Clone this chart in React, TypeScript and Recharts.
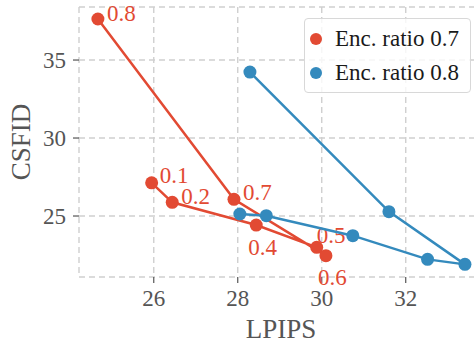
import React from 'react';
import {
	ScatterChart,
	Scatter,
	XAxis,
	YAxis,
	CartesianGrid,
	Legend,
} from 'recharts';

// encoder ratio labels for the 0.7 curve, in drawing order
const ratioLabels = ['0.1', '0.2', '0.4', '0.5', '0.6', '0.7', '0.8'];
const lpips07 = [25.95, 26.44, 28.44, 29.88, 30.1, 27.91, 24.67];
const csfid07 = [27.13, 25.88, 24.42, 22.99, 22.46, 26.07, 37.63];
const lpips08 = [28.29, 31.6, 33.41, 32.52, 30.74, 28.68, 28.05];
const csfid08 = [34.23, 25.28, 21.9, 22.22, 23.74, 25.02, 25.13];
const xTicks = [26, 28, 30, 32];
const yTicks = [25, 30, 35];
const seriesNames = ['Enc. ratio 0.7', 'Enc. ratio 0.8'];

const RED = '#E24A33';
const BLUE = '#348ABD';
const FONT = '"Liberation Serif", "DejaVu Serif", serif';

// label placement next to each dot (dx, dy of text centre-left)
const labelOffset: Record<string, [number, number]> = {
	'0.1': [8, -7],
	'0.2': [9, -6],
	'0.4': [-8, 22],
	'0.5': [0, -12],
	'0.6': [-8, 22],
	'0.7': [9, -7],
	'0.8': [9, -6],
};

const data07 = lpips07.map((x, i) => ({ x, y: csfid07[i], label: ratioLabels[i] }));
const data08 = lpips08.map((x, i) => ({ x, y: csfid08[i] }));

const Dot = (props: any) => {
	const { cx, cy, fill, payload } = props;
	const off = payload && payload.label ? labelOffset[payload.label] : null;
	return (
		<g>
			<circle cx={cx} cy={cy} r={6.5} fill={fill} />
			{off && (
				<text
					x={cx + off[0]}
					y={cy + off[1]}
					fill={fill}
					dominantBaseline='central'
					style={{ fontFamily: FONT, fontSize: 23 }}
				>
					{payload.label}
				</text>
			)}
		</g>
	);
};

const YTitle = (props: any) => {
	const vb = props.viewBox || { x: 0, y: 7, height: 270 };
	const cx = 21;
	const cy = vb.y + vb.height / 2;
	return (
		<text
			x={cx}
			y={cy}
			transform={`rotate(-90 ${cx} ${cy})`}
			textAnchor='middle'
			dominantBaseline='central'
			fill='#555555'
			style={{ fontFamily: FONT, fontSize: 27 }}
		>
			CSFID
		</text>
	);
};

const XTitle = (props: any) => {
	const vb = props.viewBox || { x: 79, width: 404 };
	const cx = vb.x + vb.width / 2;
	return (
		<text
			x={cx}
			y={329}
			textAnchor='middle'
			dominantBaseline='central'
			fill='#555555'
			style={{ fontFamily: FONT, fontSize: 27 }}
		>
			LPIPS
		</text>
	);
};

const LegendBox = () => {
	const colors = [RED, BLUE];
	return (
		<div
			style={{
				position: 'relative',
				width: 167,
				height: 75,
				boxSizing: 'border-box',
				background: 'rgba(255,255,255,0.8)',
				border: '1px solid #d8d8d8',
				borderRadius: 4,
				fontFamily: FONT,
				fontSize: 23,
				color: '#1a1a1a',
			}}
		>
			{seriesNames.map((name, i) => (
				<div
					key={name}
					style={{
						position: 'absolute',
						left: 5,
						top: 8 + i * 34,
						height: 24,
						display: 'flex',
						alignItems: 'center',
						whiteSpace: 'nowrap',
					}}
				>
					<span
						style={{
							display: 'inline-block',
							width: 12,
							height: 12,
							borderRadius: 6,
							background: colors[i],
							marginRight: 13,
						}}
					/>
					<span>{name}</span>
				</div>
			))}
		</div>
	);
};

const tickStyle = { fontSize: 23, fontFamily: FONT, fill: '#555555', style: { fontFamily: FONT } };

export default function App() {
	return (
		<div
			style={{
				position: 'absolute',
				left: 0,
				top: 0,
				width: 474,
				height: 343,
				overflow: 'hidden',
				background: '#fff',
			}}
		>
			<ScatterChart
				width={483}
				height={343}
				margin={{ top: 7, right: 0, left: 0, bottom: 0 }}
			>
				<CartesianGrid
					stroke='#cfcfcf'
					strokeWidth={1.4}
					strokeDasharray='6 4'
				/>
				<XAxis
					type='number'
					dataKey='x'
					domain={[24.22, 33.84]}
					ticks={xTicks}
					axisLine={false}
					tickSize={6}
					tickMargin={7}
					tickLine={{ stroke: '#555555', strokeWidth: 1.2 }}
					tick={tickStyle}
					height={66}
					label={<XTitle />}
				/>
				<YAxis
					type='number'
					dataKey='y'
					domain={[21.09, 38.4]}
					ticks={yTicks}
					axisLine={false}
					tickSize={6}
					tickMargin={7}
					tickLine={{ stroke: '#555555', strokeWidth: 1.2 }}
					tick={tickStyle}
					width={79}
					label={<YTitle />}
				/>
				<Legend
					layout='horizontal'
					verticalAlign='middle'
					align='center'
					wrapperStyle={{ left: 304, top: 18, width: 167, height: 75 }}
					content={<LegendBox />}
				/>
				<Scatter
					name={seriesNames[0]}
					data={data07}
					fill={RED}
					line={{ stroke: RED, strokeWidth: 2.5 }}
					lineType='joint'
					shape={<Dot />}
					isAnimationActive={false}
				/>
				<Scatter
					name={seriesNames[1]}
					data={data08}
					fill={BLUE}
					line={{ stroke: BLUE, strokeWidth: 2.5 }}
					lineType='joint'
					shape={<Dot />}
					isAnimationActive={false}
				/>
			</ScatterChart>
		</div>
	);
}
